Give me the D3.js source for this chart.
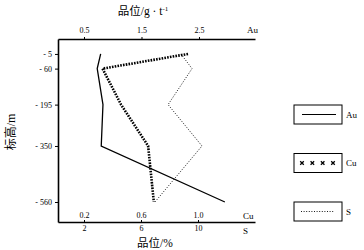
<!DOCTYPE html>
<html>
<head>
<meta charset="utf-8">
<script src="https://cdn.jsdelivr.net/npm/d3@7"></script>
<style>
  body { margin: 0; background: #fff; }
  svg { display: block; }
  .tick text { font-family: "Liberation Serif", "DejaVu Serif", serif; font-size: 8px; fill: #000; }
  .lab { font-family: "Liberation Serif", serif; fill: #000; }
  .cjk { font-family: "Noto Sans CJK SC", sans-serif; }
</style>
</head>
<body>
<div id="chart"></div>
<script>
// elevations (m) and grades per element
const elevations = [-5, -60, -195, -350, -560];
const auGrade = [0.79, 0.73, 0.83, 0.80, 2.95];   // g/t
const cuGrade = [0.93, 0.33, 0.46, 0.65, 0.69];   // %
const sGrade  = [8.8, 9.58, 7.9, 10.28, 6.98];    // %
const auTicks = [0.5, 1.5, 2.5];
const cuTicks = [0.2, 0.6, 1.0];
const sTicks = [2, 6, 10];
const legendKeys = ["Au", "Cu", "S"];

const width = 364, height = 250;
const plot = {left: 58, right: 255, top: 39, bottom: 222};

const svg = d3.select("#chart").append("svg")
    .attr("width", width)
    .attr("height", height);

// scales (domains stretched so the axes span the whole frame)
const xAu = d3.scaleLinear().domain([0.048, 3.474]).range([plot.left, plot.right]);
const xCu = d3.scaleLinear().domain([0.0175, 1.4]).range([plot.left, plot.right]);
const xS  = d3.scaleLinear().domain([0.175, 14.0]).range([plot.left, plot.right]);
const y = d3.scaleLinear().domain([51, -635]).range([plot.top, plot.bottom]);

// top axis (Au)
svg.append("g")
    .attr("transform", `translate(0,${plot.top})`)
    .call(d3.axisTop(xAu).tickValues(auTicks).tickSize(2).tickPadding(4)
        .tickFormat(d3.format(".1f")).tickSizeOuter(0));

// bottom axis: Cu labels above, S labels below
svg.append("g")
    .attr("transform", `translate(0,${plot.bottom})`)
    .call(d3.axisTop(xCu).tickValues(cuTicks).tickSize(2).tickPadding(2)
        .tickFormat(d3.format(".1f")).tickSizeOuter(0));
svg.append("g")
    .attr("transform", `translate(0,${plot.bottom})`)
    .call(d3.axisBottom(xS).tickValues(sTicks).tickSize(0).tickPadding(3).tickSizeOuter(0))
    .call(g => g.select(".domain").remove());

// left axis (elevation)
svg.append("g")
    .attr("transform", `translate(${plot.left},0)`)
    .call(d3.axisLeft(y).tickValues(elevations).tickSize(3).tickPadding(3)
        .tickFormat(d => `- ${Math.abs(d)}`).tickSizeOuter(0));

svg.selectAll(".domain").attr("stroke", "#000").attr("stroke-width", 1.6);
svg.selectAll(".tick line").attr("stroke", "#000");

// axis names
svg.append("text").attr("class", "lab").attr("x", 247).attr("y", 33)
    .attr("font-size", 9).text("Au");
svg.append("text").attr("class", "lab").attr("x", 243).attr("y", 219)
    .attr("font-size", 9).text("Cu");
svg.append("text").attr("class", "lab").attr("x", 243).attr("y", 234)
    .attr("font-size", 9).text("S");

const topTitle = svg.append("text").attr("class", "lab")
    .attr("x", 143).attr("y", 15).attr("text-anchor", "middle").attr("font-size", 11.5);
topTitle.append("tspan").attr("class", "cjk").text("品位");
topTitle.append("tspan").text("/g · t");
topTitle.append("tspan").attr("dy", -4).attr("font-size", 7).text("-1");

const botTitle = svg.append("text").attr("class", "lab")
    .attr("x", 155).attr("y", 247).attr("text-anchor", "middle").attr("font-size", 11.5);
botTitle.append("tspan").attr("class", "cjk").text("品位");
botTitle.append("tspan").text("/%");

const yTitle = svg.append("text").attr("class", "lab")
    .attr("transform", "translate(15,132) rotate(-90)")
    .attr("text-anchor", "middle").attr("font-size", 12);
yTitle.append("tspan").attr("class", "cjk").text("标高");
yTitle.append("tspan").text("/m");

// lines
const rows = elevations.map((e, i) => ({e, au: auGrade[i], cu: cuGrade[i], s: sGrade[i]}));

svg.append("path").datum(rows)
    .attr("fill", "none").attr("stroke", "#000").attr("stroke-width", 1.3)
    .attr("d", d3.line().x(d => xAu(d.au)).y(d => y(d.e)));

svg.append("path").datum(rows)
    .attr("fill", "none").attr("stroke", "#000").attr("stroke-width", 2.6)
    .attr("stroke-dasharray", "1.6,1.2")
    .attr("d", d3.line().x(d => xCu(d.cu)).y(d => y(d.e)));

svg.append("path").datum(rows)
    .attr("fill", "none").attr("stroke", "#000").attr("stroke-width", 0.9)
    .attr("stroke-dasharray", "1,1.6")
    .attr("d", d3.line().x(d => xS(d.s)).y(d => y(d.e)));

// legend
const ly = d3.scalePoint().domain(legendKeys).range([114.5, 211.5]);
const lg = svg.append("g").selectAll("g").data(legendKeys).enter().append("g")
    .attr("transform", d => `translate(294,${ly(d)})`);
lg.append("rect").attr("x", 0).attr("y", -9.5).attr("width", 48).attr("height", 19)
    .attr("fill", "none").attr("stroke", "#000").attr("stroke-width", 1);
lg.append("text").attr("class", "lab").attr("x", 52).attr("y", 3)
    .attr("font-size", 9).text(d => d);
lg.filter(d => d === "Au").append("line")
    .attr("x1", 8).attr("x2", 42).attr("stroke", "#000").attr("stroke-width", 1.2);
lg.filter(d => d === "S").append("line")
    .attr("x1", 7).attr("x2", 40).attr("stroke", "#000").attr("stroke-width", 0.9)
    .attr("stroke-dasharray", "1,1.6");
const crossX = d3.scalePoint().domain(d3.range(4)).range([8, 39]);
lg.filter(d => d === "Cu").selectAll("path").data(d3.range(4)).enter().append("path")
    .attr("transform", i => `translate(${crossX(i)},0)`)
    .attr("d", d3.symbol(d3.symbolTimes, 10))
    .attr("fill", "none").attr("stroke", "#000").attr("stroke-width", 1.3);
</script>
</body>
</html>
